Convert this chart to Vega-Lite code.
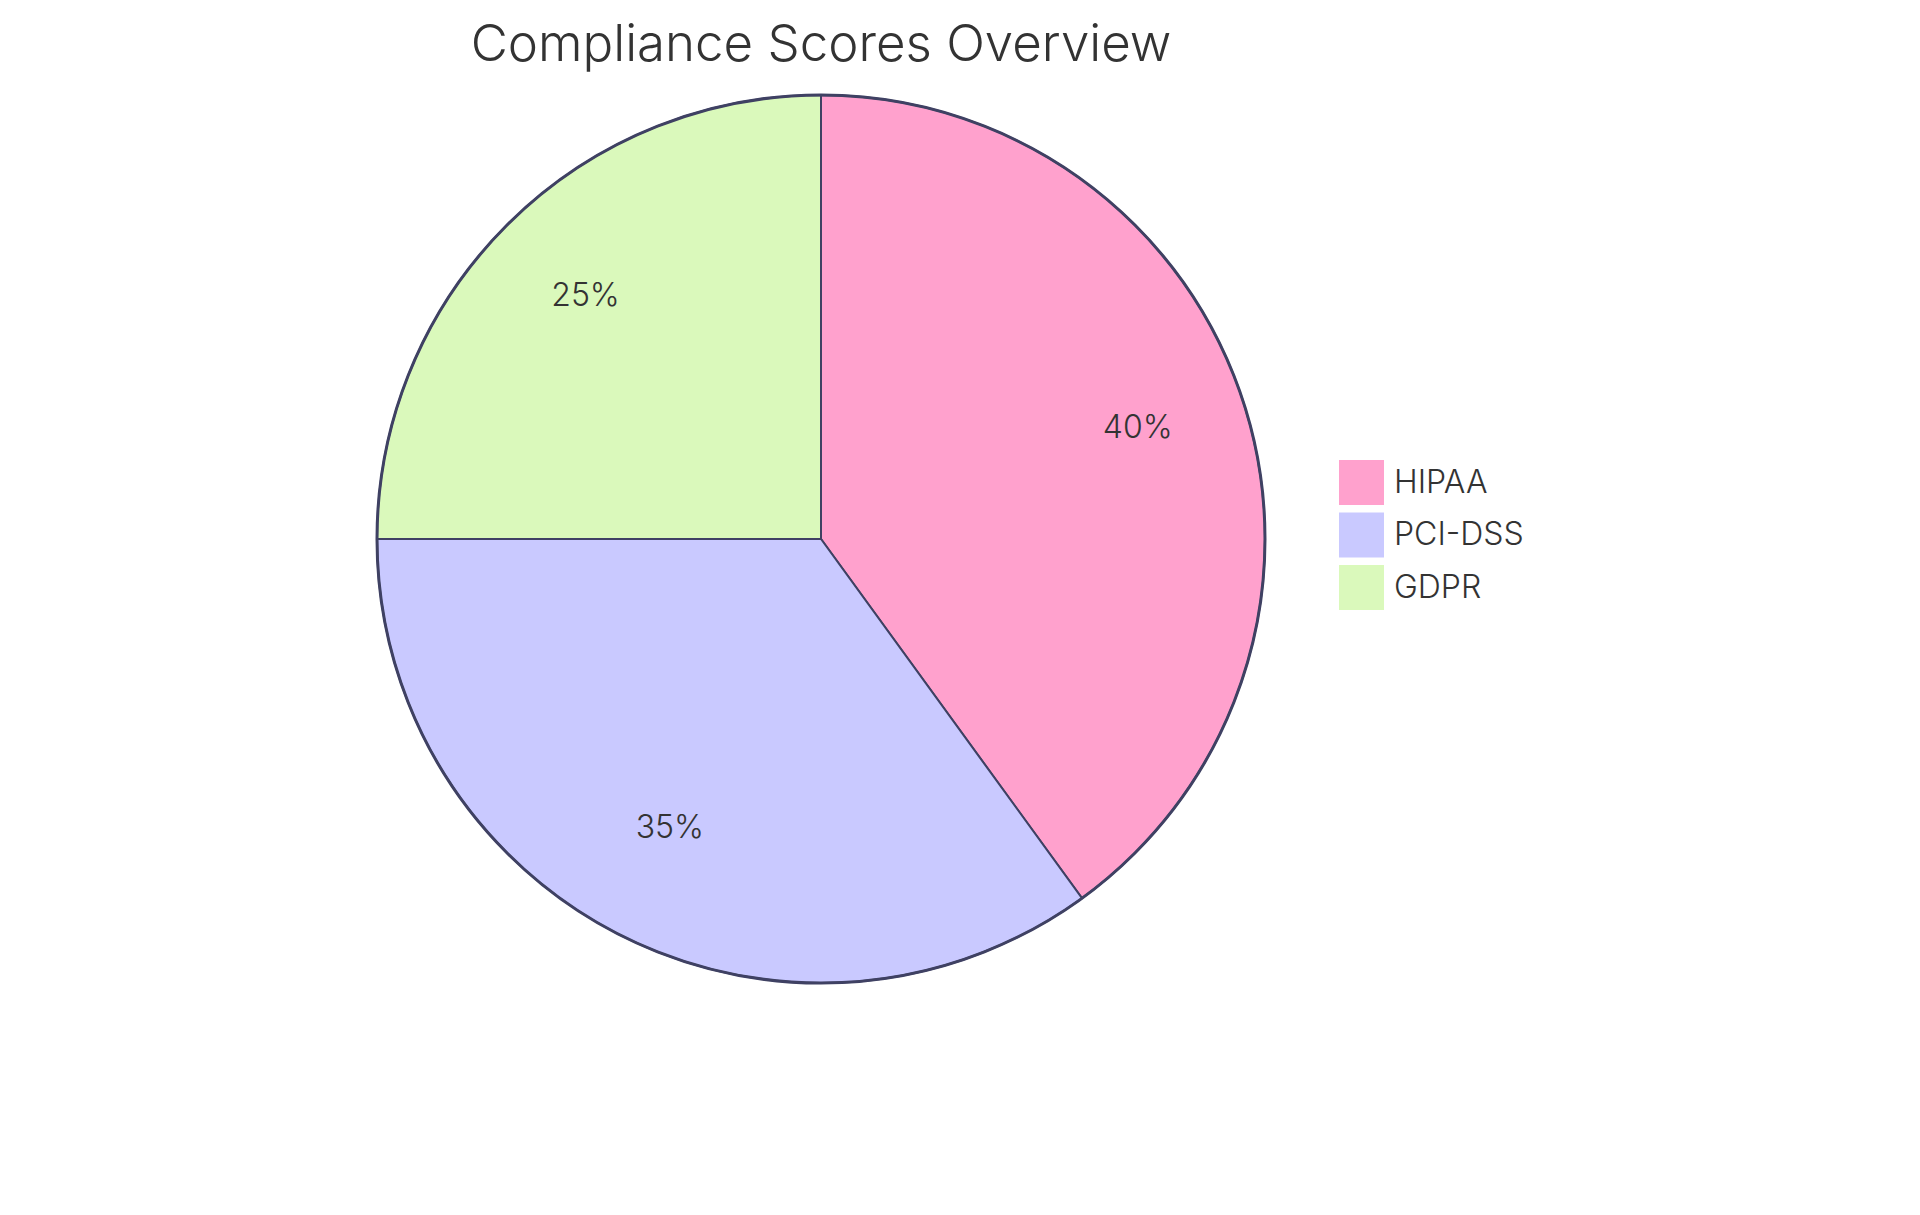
{
  "$schema": "https://vega.github.io/schema/vega-lite/v6.json",
  "width": 888,
  "height": 888,
  "autosize": {"type": "pad"},
  "padding": {"left": 371, "top": 20, "right": 0, "bottom": 0},
  "background": "white",
  "title": {
    "text": "Compliance Scores Overview",
    "font": "Inter",
    "fontSize": 51,
    "fontWeight": 300,
    "color": "#333333",
    "anchor": "middle",
    "frame": "group",
    "offset": 17
  },
  "data": {
    "values": [
      {"standard": "HIPAA", "share": 0.40},
      {"standard": "PCI-DSS", "share": 0.35},
      {"standard": "GDPR", "share": 0.25}
    ]
  },
  "layer": [
    {
      "mark": {"type": "arc", "stroke": "#3f4163", "strokeWidth": 2},
      "encoding": {
        "theta": {"field": "share", "type": "quantitative", "stack": true},
        "order": {"field": "share", "sort": "descending"},
        "color": {
          "field": "standard",
          "type": "nominal",
          "scale": {
            "domain": ["HIPAA", "PCI-DSS", "GDPR"],
            "range": ["#FFA1CD", "#C9C9FF", "#DAF9BB"]
          },
          "legend": {
            "orient": "none",
            "legendX": 962,
            "legendY": 365,
            "title": null,
            "padding": 0,
            "symbolType": "square",
            "symbolSize": 2025,
            "symbolStrokeWidth": 0,
            "symbolOpacity": 1,
            "labelFont": "Inter",
            "labelFontSize": 32,
            "labelFontWeight": 300,
            "labelColor": "#333333",
            "labelOffset": 10,
            "rowPadding": 7.5
          }
        }
      }
    },
    {
      "mark": {"type": "arc", "filled": false, "stroke": "#3f4163", "strokeWidth": 3},
      "encoding": {
        "theta": {"aggregate": "sum", "field": "share", "type": "quantitative"}
      }
    },
    {
      "mark": {"type": "text", "radius": 333, "dy": -8, "font": "Inter", "fontSize": 32, "fontWeight": 300, "color": "#333333"},
      "encoding": {
        "theta": {"field": "share", "type": "quantitative", "stack": true},
        "order": {"field": "share", "sort": "descending"},
        "text": {"field": "share", "type": "quantitative", "format": ".0%"}
      }
    }
  ],
  "config": {"view": {"stroke": null}}
}
